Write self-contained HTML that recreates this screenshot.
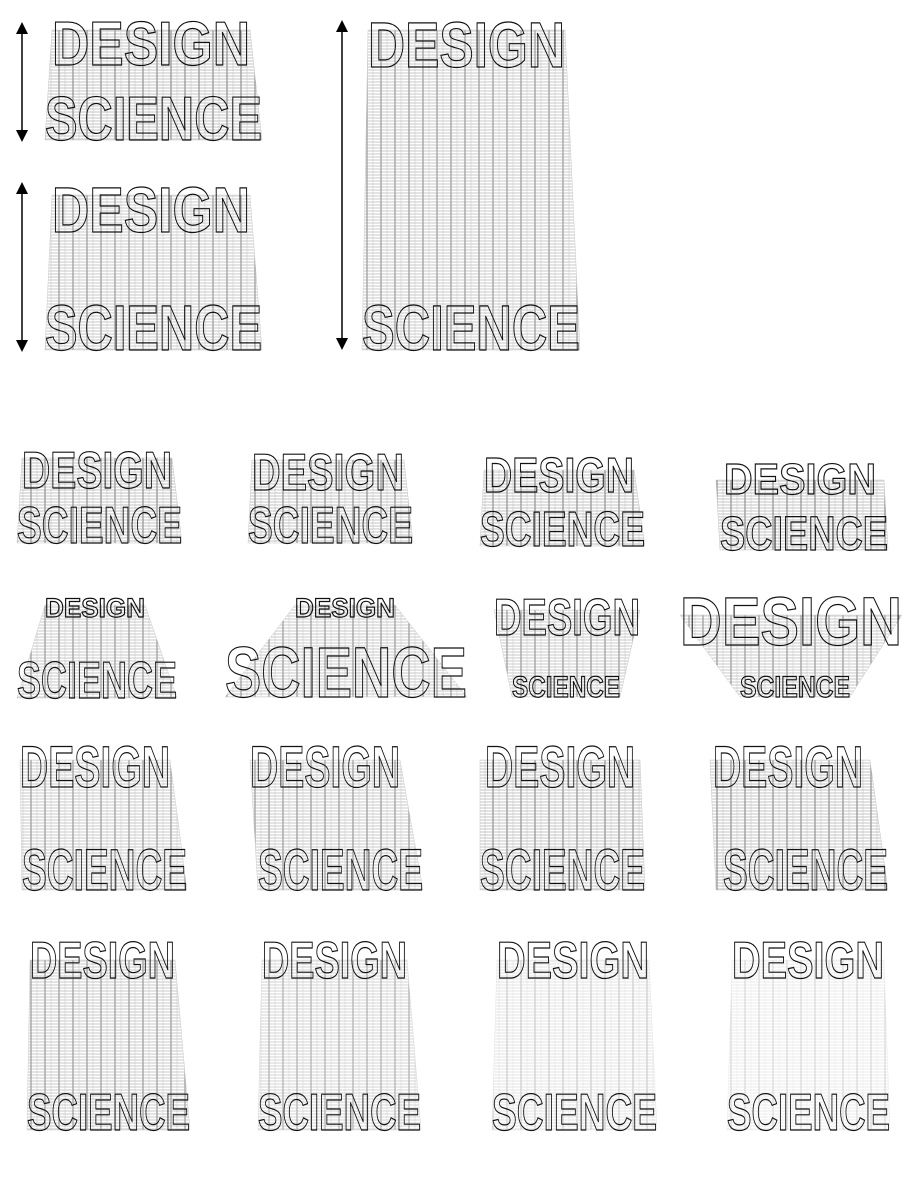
<!DOCTYPE html>
<html><head><meta charset="utf-8"><style>
html,body{margin:0;padding:0;background:#fff;width:910px;height:1178px;overflow:hidden}
svg{display:block}
text{font-family:"Liberation Sans",sans-serif;font-weight:bold;fill:none;stroke:#111;stroke-width:1.2}
.sm{fill:url(#hl);stroke:#999;stroke-width:.5}
</style></head><body>
<svg width="910" height="1178" viewBox="0 0 910 1178" xmlns="http://www.w3.org/2000/svg">
<defs>
<pattern id="hl" width="14" height="3" patternUnits="userSpaceOnUse">
<rect width="14" height="3" fill="#fff"/>
<line x1="0" y1="1" x2="14" y2="1" stroke="#777" stroke-width="0.8"/>
<line x1="3" y1="0" x2="3" y2="3" stroke="#444" stroke-width="1.3"/>
<line x1="9" y1="0" x2="9" y2="3" stroke="#999" stroke-width="0.6"/>
</pattern>
<marker id="ah" markerWidth="8" markerHeight="8" refX="4" refY="4" orient="auto-start-reverse"><path d="M0,0 L8,4 L0,8 z" fill="#000"/></marker>
</defs>
<line x1="22" y1="28" x2="22" y2="136" stroke="#000" stroke-width="1.5" marker-start="url(#ah)" marker-end="url(#ah)"/>
<line x1="22" y1="188" x2="22" y2="346" stroke="#000" stroke-width="1.5" marker-start="url(#ah)" marker-end="url(#ah)"/>
<line x1="342" y1="26" x2="342" y2="344" stroke="#000" stroke-width="1.5" marker-start="url(#ah)" marker-end="url(#ah)"/>

<polygon class="sm" opacity=".55" points="52,30 250,30 262,140 45,140"/>
<text x="52" y="65" font-size="62" textLength="198" lengthAdjust="spacingAndGlyphs">DESIGN</text>
<text x="45" y="140" font-size="62" textLength="217" lengthAdjust="spacingAndGlyphs">SCIENCE</text>
<polygon class="sm" opacity=".5" points="52,195 250,195 262,350 45,350"/>
<text x="52" y="232" font-size="64" textLength="198" lengthAdjust="spacingAndGlyphs">DESIGN</text>
<text x="45" y="350" font-size="64" textLength="217" lengthAdjust="spacingAndGlyphs">SCIENCE</text>
<polygon class="sm" opacity=".5" points="368,30 565,30 580,350 362,350"/>
<text x="368" y="67" font-size="64" textLength="197" lengthAdjust="spacingAndGlyphs">DESIGN</text>
<text x="362" y="350" font-size="64" textLength="218" lengthAdjust="spacingAndGlyphs">SCIENCE</text>

<polygon class="sm" opacity=".55" points="22,458 172,458 182,543 17,543"/>
<text x="22" y="488" font-size="52" textLength="150" lengthAdjust="spacingAndGlyphs">DESIGN</text>
<text x="17" y="543" font-size="52" textLength="165" lengthAdjust="spacingAndGlyphs">SCIENCE</text>
<polygon class="sm" opacity=".55" points="252,460 404,460 413,543 248,543"/>
<text x="252" y="490" font-size="52" textLength="152" lengthAdjust="spacingAndGlyphs">DESIGN</text>
<text x="248" y="543" font-size="52" textLength="165" lengthAdjust="spacingAndGlyphs">SCIENCE</text>
<polygon class="sm" opacity=".55" points="484,470 634,470 645,546 480,546"/>
<text x="484" y="492" font-size="49" textLength="150" lengthAdjust="spacingAndGlyphs">DESIGN</text>
<text x="480" y="546" font-size="49" textLength="165" lengthAdjust="spacingAndGlyphs">SCIENCE</text>
<polygon class="sm" opacity=".55" points="716,480 884,480 888,550 720,550"/>
<text x="724" y="494" font-size="44" textLength="152" lengthAdjust="spacingAndGlyphs">DESIGN</text>
<text x="720" y="550" font-size="48" textLength="168" lengthAdjust="spacingAndGlyphs">SCIENCE</text>

<polygon class="sm" opacity=".5" points="45,605 145,605 177,698 17,698"/>
<text x="45" y="617" font-size="27" textLength="100" lengthAdjust="spacingAndGlyphs">DESIGN</text>
<text x="17" y="698" font-size="52" textLength="160" lengthAdjust="spacingAndGlyphs">SCIENCE</text>
<polygon class="sm" opacity=".5" points="295,605 395,605 467,697 225,697"/>
<text x="295" y="617" font-size="27" textLength="100" lengthAdjust="spacingAndGlyphs">DESIGN</text>
<text x="225" y="697" font-size="71" textLength="242" lengthAdjust="spacingAndGlyphs">SCIENCE</text>
<polygon class="sm" opacity=".5" points="494,610 640,610 620,697 512,697"/>
<text x="494" y="635" font-size="52" textLength="146" lengthAdjust="spacingAndGlyphs">DESIGN</text>
<text x="512" y="697" font-size="30" textLength="108" lengthAdjust="spacingAndGlyphs">SCIENCE</text>
<polygon class="sm" opacity=".5" points="680,615 902,615 850,697 740,697"/>
<text x="680" y="645" font-size="69" textLength="222" lengthAdjust="spacingAndGlyphs">DESIGN</text>
<text x="740" y="697" font-size="30" textLength="110" lengthAdjust="spacingAndGlyphs">SCIENCE</text>

<polygon class="sm" opacity=".5" points="20,760 170,760 187,890 22,890"/>
<text x="20" y="787" font-size="58" textLength="150" lengthAdjust="spacingAndGlyphs">DESIGN</text>
<text x="22" y="890" font-size="58" textLength="165" lengthAdjust="spacingAndGlyphs">SCIENCE</text>
<polygon class="sm" opacity=".5" points="250,760 400,760 423,890 258,890"/>
<text x="250" y="787" font-size="58" textLength="150" lengthAdjust="spacingAndGlyphs">DESIGN</text>
<text x="258" y="890" font-size="58" textLength="165" lengthAdjust="spacingAndGlyphs">SCIENCE</text>
<polygon class="sm" opacity=".55" points="480,760 640,760 645,890 480,890"/>
<text x="485" y="787" font-size="58" textLength="150" lengthAdjust="spacingAndGlyphs">DESIGN</text>
<text x="480" y="890" font-size="58" textLength="165" lengthAdjust="spacingAndGlyphs">SCIENCE</text>
<polygon class="sm" opacity=".55" points="710,760 870,760 888,890 716,890"/>
<text x="713" y="787" font-size="58" textLength="150" lengthAdjust="spacingAndGlyphs">DESIGN</text>
<text x="723" y="890" font-size="58" textLength="165" lengthAdjust="spacingAndGlyphs">SCIENCE</text>

<polygon class="sm" opacity=".5" points="30,960 175,960 190,1130 27,1130"/>
<text x="30" y="978" font-size="52" textLength="145" lengthAdjust="spacingAndGlyphs">DESIGN</text>
<text x="27" y="1130" font-size="52" textLength="163" lengthAdjust="spacingAndGlyphs">SCIENCE</text>
<polygon class="sm" opacity=".4" points="262,960 407,960 421,1130 258,1130"/>
<text x="262" y="978" font-size="52" textLength="145" lengthAdjust="spacingAndGlyphs">DESIGN</text>
<text x="258" y="1130" font-size="52" textLength="163" lengthAdjust="spacingAndGlyphs">SCIENCE</text>
<polygon class="sm" opacity=".25" points="497,960 649,960 657,1130 492,1130"/>
<text x="497" y="978" font-size="52" textLength="152" lengthAdjust="spacingAndGlyphs">DESIGN</text>
<text x="492" y="1130" font-size="52" textLength="165" lengthAdjust="spacingAndGlyphs">SCIENCE</text>
<polygon class="sm" opacity=".18" points="732,960 884,960 890,1130 727,1130"/>
<text x="732" y="978" font-size="52" textLength="152" lengthAdjust="spacingAndGlyphs">DESIGN</text>
<text x="727" y="1130" font-size="52" textLength="163" lengthAdjust="spacingAndGlyphs">SCIENCE</text>
</svg>
</body></html>
